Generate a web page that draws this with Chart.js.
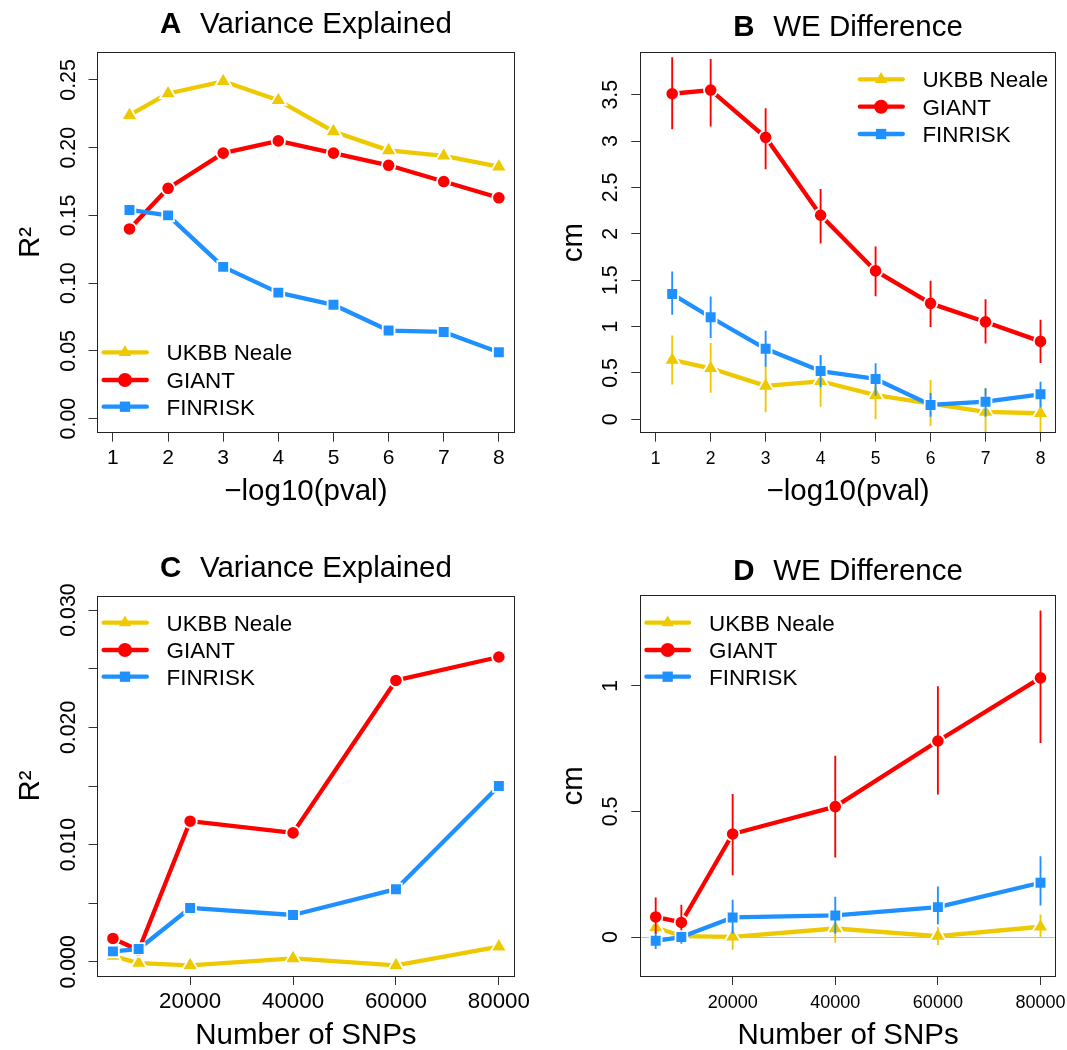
<!DOCTYPE html>
<html><head><meta charset="utf-8">
<script src="https://cdn.jsdelivr.net/npm/chart.js@4.4.1/dist/chart.umd.min.js"></script>
<style>
html,body{margin:0;padding:0;background:#fff;width:1067px;height:1050px;overflow:hidden;}
.panel{position:absolute;}
canvas{display:block;}
#ov{position:absolute;left:0;top:0;pointer-events:none;}
</style></head><body>
<div class="panel" id="pA"><canvas id="cA"></canvas></div>
<div class="panel" id="pB"><canvas id="cB"></canvas></div>
<div class="panel" id="pC"><canvas id="cC"></canvas></div>
<div class="panel" id="pD"><canvas id="cD"></canvas></div>
<svg id="ov" width="1067" height="1050" xmlns="http://www.w3.org/2000/svg"></svg>
<script>
// ---------------- DATA ----------------
const seriesNames = ['UKBB Neale', 'GIANT', 'FINRISK'];
const panelLetters = ['A', 'B', 'C', 'D'];
const panelTitles = ['Variance Explained', 'WE Difference', 'Variance Explained', 'WE Difference'];
const xTitlePval = '\u2212log10(pval)';
const xTitleSnp = 'Number of SNPs';
const yTitleR2 = 'R\u00B2';
const yTitleCm = 'cm';

const xPval = [1.3, 2, 3, 4, 5, 6, 7, 8];
const xSnp = [5000, 10000, 20000, 40000, 60000, 80000];

const xTicksPval = [1, 2, 3, 4, 5, 6, 7, 8];
const xLabelsPval = ['1', '2', '3', '4', '5', '6', '7', '8'];
const xTicksSnp = [20000, 40000, 60000, 80000];
const xLabelsSnp = ['20000', '40000', '60000', '80000'];

const yTicksA = [0, 0.05, 0.10, 0.15, 0.20, 0.25];
const yLabelsA = ['0.00', '0.05', '0.10', '0.15', '0.20', '0.25'];
const yTicksB = [0, 0.5, 1, 1.5, 2, 2.5, 3, 3.5];
const yLabelsB = ['0', '0.5', '1', '1.5', '2', '2.5', '3', '3.5'];
const yTicksC = [0, 0.005, 0.010, 0.015, 0.020, 0.025, 0.030];
const yLabelsC = ['0.000', '', '0.010', '', '0.020', '', '0.030'];
const yTicksD = [0, 0.5, 1];
const yLabelsD = ['0', '0.5', '1'];

// Panel A: R2 vs -log10(pval)
const r2Pval_UKBB    = [0.224, 0.240, 0.249, 0.235, 0.212, 0.198, 0.194, 0.186];
const r2Pval_GIANT   = [0.140, 0.170, 0.196, 0.205, 0.196, 0.187, 0.175, 0.163];
const r2Pval_FINRISK = [0.154, 0.150, 0.112, 0.093, 0.084, 0.065, 0.064, 0.049];

// Panel B: WE difference vs -log10(pval), with interval ends
const wePval_UKBB       = [0.64, 0.55, 0.36, 0.41, 0.26, 0.17, 0.08, 0.065];
const wePval_UKBB_lo    = [0.38, 0.29, 0.08, 0.14, 0.00, -0.07, -0.15, -0.165];
const wePval_UKBB_hi    = [0.90, 0.82, 0.57, 0.68, 0.51, 0.42, 0.33, 0.30];
const wePval_GIANT      = [3.51, 3.55, 3.04, 2.20, 1.60, 1.25, 1.05, 0.84];
const wePval_GIANT_lo   = [3.13, 3.16, 2.70, 1.90, 1.33, 1.00, 0.82, 0.61];
const wePval_GIANT_hi   = [3.90, 3.88, 3.35, 2.48, 1.86, 1.49, 1.29, 1.07];
const wePval_FINRISK    = [1.35, 1.10, 0.76, 0.52, 0.435, 0.155, 0.19, 0.27];
const wePval_FINRISK_lo = [1.13, 0.88, 0.57, 0.35, 0.26, 0.03, 0.03, 0.13];
const wePval_FINRISK_hi = [1.59, 1.32, 0.95, 0.69, 0.60, 0.28, 0.33, 0.40];

// Panel C: R2 vs number of SNPs
const r2Snp_UKBB    = [0.0005, -0.0001, -0.0003, 0.0003, -0.0003, 0.0013];
const r2Snp_GIANT   = [0.0020, 0.0010, 0.0120, 0.0110, 0.0240, 0.0260];
const r2Snp_FINRISK = [0.0009, 0.0011, 0.0046, 0.0040, 0.0062, 0.0150];

// Panel D: WE difference vs number of SNPs, with interval ends
const weSnp_UKBB       = [0.038, 0.004, 0.001, 0.034, 0.004, 0.041];
const weSnp_UKBB_lo    = [0.010, -0.020, -0.049, -0.020, -0.030, 0.000];
const weSnp_UKBB_hi    = [0.066, 0.028, 0.041, 0.088, 0.038, 0.088];
const weSnp_GIANT      = [0.080, 0.058, 0.410, 0.519, 0.780, 1.031];
const weSnp_GIANT_lo   = [0.004, -0.011, 0.247, 0.318, 0.568, 0.773];
const weSnp_GIANT_hi   = [0.156, 0.127, 0.568, 0.720, 0.996, 1.298];
const weSnp_FINRISK    = [-0.015, 0.000, 0.078, 0.086, 0.119, 0.216];
const weSnp_FINRISK_lo = [-0.046, -0.025, 0.015, 0.015, 0.052, 0.127];
const weSnp_FINRISK_hi = [0.015, 0.020, 0.147, 0.159, 0.200, 0.320];

// ---------------- STYLE / LAYOUT ----------------
const FONT = "'Liberation Sans', Arial, Helvetica, sans-serif";
const COLORS = ['#EEC900', '#FF0000', '#1E90FF'];
const STYLES = ['triangle', 'circle', 'rect'];
const RADII = [9.3, 6.7, 8.3];          // include ~1px of white ring inside
const ORDERS = [3, 2, 1];               // FINRISK drawn on top

const LAYOUT = {
  A: {left:0,   top:0,   w:533, h:525, pt:52.3, pr:18.7, wy:97.5,  hx:92.3, xFont:21,   yFont:21.4, xPad:4.1, yPad:-1.1, xtPad:15.9, ytPad:12.8, titleY:33.3},
  B: {left:533, top:0,   w:534, h:525, pt:52.3, pr:8.1,  wy:107.3, hx:92.3, xFont:17.5, yFont:21.4, xPad:7.1, yPad:5.1,  xtPad:15.9, ytPad:23.4, titleY:36},
  C: {left:0,   top:525, w:533, h:525, pt:71,   pr:18.7, wy:97.5,  hx:74,   xFont:22.3, yFont:21.3, xPad:3.3, yPad:-6.9, xtPad:-3.5, ytPad:12.8, titleY:576.7},
  D: {left:533, top:525, w:534, h:525, pt:70.7, pr:8.1,  wy:107.3, hx:74,   xFont:18,   yFont:21.4, xPad:7.5, yPad:5.1,  xtPad:-3.5, ytPad:23.4, titleY:580}
};
const LEGEND = {
  A: {x0:103.6, x1:146.8, mx:125,   tx:166.5, ys:[352.3, 380, 406.7]},
  B: {x0:859.8, x1:902.8, mx:881.1, tx:922.4, ys:[79.3, 106.7, 134]},
  C: {x0:103.6, x1:146.8, mx:125,   tx:166.5, ys:[622.7, 650, 676.7]},
  D: {x0:646.4, x1:689,   mx:667.7, tx:709,   ys:[622.7, 650, 676.7]}
};

Chart.defaults.font.family = FONT;

const boxPlugin = {
  id: 'box',
  afterDatasetsDraw(chart) {
    const a = chart.chartArea, c = chart.ctx;
    c.save();
    c.strokeStyle = '#222';
    c.lineWidth = 1;
    const l = Math.floor(a.left) + 0.5, r = Math.floor(a.right) + 0.5;
    const t = Math.floor(a.top) + 0.5, b = Math.floor(a.bottom) + 0.5;
    c.strokeRect(l, t, r - l, b - t);
    c.restore();
  }
};

function buildPanel(key, p) {
  const L = LAYOUT[key];
  const div = document.getElementById('p' + key);
  div.style.left = L.left + 'px';
  div.style.top = L.top + 'px';
  const cv = document.getElementById('c' + key);
  cv.width = L.w; cv.height = L.h;

  const datasets = [];
  p.series.forEach((s, i) => {
    datasets.push({
      type: 'line', label: seriesNames[i],
      data: p.x.map((xv, j) => ({x: xv, y: s.y[j]})),
      borderColor: COLORS[i], backgroundColor: COLORS[i], borderWidth: 4.3,
      borderCapStyle: 'round', borderJoinStyle: 'round', tension: 0, fill: false,
      pointStyle: STYLES[i], pointRadius: RADII[i], pointHoverRadius: RADII[i],
      pointBackgroundColor: COLORS[i], pointBorderColor: '#ffffff', pointBorderWidth: 1.8,
      order: ORDERS[i]
    });
    if (s.lo) {
      datasets.push({
        type: 'bar', label: seriesNames[i] + ' interval',
        data: p.x.map((xv, j) => ({x: xv, y: [s.lo[j], s.hi[j]]})),
        backgroundColor: COLORS[i], borderWidth: 0, barThickness: 1.2,
        grouped: false, order: ORDERS[i] - 0.5
      });
    }
  });

  const chart = new Chart(cv, {
    data: {datasets},
    plugins: [boxPlugin],
    options: {
      responsive: false, animation: false, events: [],
      layout: {padding: {left: 0, top: L.pt, right: L.pr, bottom: 0}},
      plugins: {legend: {display: false}, title: {display: false}, tooltip: {enabled: false}},
      scales: {
        x: {
          type: 'linear', position: 'bottom', min: p.xMin, max: p.xMax, offset: false,
          afterBuildTicks: sc => { sc.ticks = p.xTicks.map(v => ({value: v})); },
          afterFit: sc => { sc.height = L.hx; sc.paddingLeft = 0; sc.paddingRight = 0; },
          ticks: {autoSkip: false, minRotation: 0, maxRotation: 0, padding: L.xPad, color: '#000',
                   font: {family: FONT, size: L.xFont}, callback: (v, i) => p.xLabels[i]},
          grid: {offset: false, drawOnChartArea: false, drawTicks: true, tickLength: 9, color: '#333', tickColor: '#333', lineWidth: 1},
          border: {display: false},
          title: {display: true, text: p.xTitle, color: '#000', font: {family: FONT, size: 29.5, lineHeight: 1.2},
                  padding: {top: 0, bottom: L.xtPad}}
        },
        y: {
          type: 'linear', position: 'left', min: p.yMin, max: p.yMax,
          afterBuildTicks: sc => { sc.ticks = p.yTicks.map(v => ({value: v})); },
          afterFit: sc => { sc.width = L.wy; sc.paddingTop = 0; sc.paddingBottom = 0; },
          ticks: {autoSkip: false, minRotation: 90, maxRotation: 90, crossAlign: 'center', padding: L.yPad,
                  color: '#000', font: {family: FONT, size: L.yFont}, callback: (v, i) => p.yLabels[i]},
          grid: {offset: false, drawOnChartArea: !!p.zeroLine, drawTicks: true, tickLength: 9, lineWidth: 1, tickColor: '#333',
                 color: ctx => (p.zeroLine && ctx.tick && ctx.tick.value === 0) ? '#bdbdbd' : 'rgba(0,0,0,0)'},
          border: {display: false},
          title: {display: true, text: p.yTitle, color: '#000', font: {family: FONT, size: 29.5, lineHeight: 1.2},
                  padding: {top: L.ytPad, bottom: 0}}
        }
      }
    }
  });
  return chart;
}

const charts = {};
charts.A = buildPanel('A', {
  x: xPval, xMin: 0.72, xMax: 8.28, xTicks: xTicksPval, xLabels: xLabelsPval,
  yMin: -0.0104, yMax: 0.2704, yTicks: yTicksA, yLabels: yLabelsA,
  xTitle: xTitlePval, yTitle: yTitleR2,
  series: [{y: r2Pval_UKBB}, {y: r2Pval_GIANT}, {y: r2Pval_FINRISK}]
});
charts.B = buildPanel('B', {
  x: xPval, xMin: 0.72, xMax: 8.28, xTicks: xTicksPval, xLabels: xLabelsPval,
  yMin: -0.1445, yMax: 3.957, yTicks: yTicksB, yLabels: yLabelsB,
  xTitle: xTitlePval, yTitle: yTitleCm,
  series: [
    {y: wePval_UKBB, lo: wePval_UKBB_lo, hi: wePval_UKBB_hi},
    {y: wePval_GIANT, lo: wePval_GIANT_lo, hi: wePval_GIANT_hi},
    {y: wePval_FINRISK, lo: wePval_FINRISK_lo, hi: wePval_FINRISK_hi}
  ]
});
charts.C = buildPanel('C', {
  x: xSnp, xMin: 2000, xMax: 83000, xTicks: xTicksSnp, xLabels: xLabelsSnp,
  yMin: -0.0012, yMax: 0.0312, yTicks: yTicksC, yLabels: yLabelsC,
  xTitle: xTitleSnp, yTitle: yTitleR2,
  series: [{y: r2Snp_UKBB}, {y: r2Snp_GIANT}, {y: r2Snp_FINRISK}]
});
charts.D = buildPanel('D', {
  x: xSnp, xMin: 2000, xMax: 83000, xTicks: xTicksSnp, xLabels: xLabelsSnp,
  yMin: -0.155, yMax: 1.358, yTicks: yTicksD, yLabels: yLabelsD,
  xTitle: xTitleSnp, yTitle: yTitleCm, zeroLine: true,
  series: [
    {y: weSnp_UKBB, lo: weSnp_UKBB_lo, hi: weSnp_UKBB_hi},
    {y: weSnp_GIANT, lo: weSnp_GIANT_lo, hi: weSnp_GIANT_hi},
    {y: weSnp_FINRISK, lo: weSnp_FINRISK_lo, hi: weSnp_FINRISK_hi}
  ]
});

// ---------------- OVERLAY: titles and legends ----------------
const svg = document.getElementById('ov');
const NS = 'http://www.w3.org/2000/svg';
function el(tag, attrs, parent, text) {
  const e = document.createElementNS(NS, tag);
  for (const k in attrs) e.setAttribute(k, attrs[k]);
  if (text != null) e.textContent = text;
  (parent || svg).appendChild(e);
  return e;
}
['A', 'B', 'C', 'D'].forEach((key, k) => {
  const L = LAYOUT[key];
  const a = charts[key].chartArea;
  const cx = L.left + (a.left + a.right) / 2;
  const t = el('text', {x: cx, y: L.titleY, 'text-anchor': 'middle', 'font-family': FONT, 'font-size': 29.5, fill: '#000'});
  el('tspan', {'font-weight': 'bold'}, t, panelLetters[k]);
  el('tspan', {dx: 18.7}, t, panelTitles[k]);

  const G = LEGEND[key];
  seriesNames.forEach((name, i) => {
    const y = G.ys[i];
    el('line', {x1: G.x0, y1: y, x2: G.x1, y2: y, stroke: COLORS[i], 'stroke-width': 4.3, 'stroke-linecap': 'round'});
    if (STYLES[i] === 'triangle') {
      const r = 7.2;
      el('polygon', {points: `${G.mx},${y - r} ${G.mx + 0.866 * r},${y + r / 2} ${G.mx - 0.866 * r},${y + r / 2}`, fill: COLORS[i]});
    } else if (STYLES[i] === 'circle') {
      el('circle', {cx: G.mx, cy: y, r: 7, fill: COLORS[i]});
    } else {
      el('rect', {x: G.mx - 5.15, y: y - 5.15, width: 10.3, height: 10.3, fill: COLORS[i]});
    }
    el('text', {x: G.tx, y: y + 7.8, 'font-family': FONT, 'font-size': 22.4, fill: '#000'}, null, name);
  });
});
</script>
</body></html>
